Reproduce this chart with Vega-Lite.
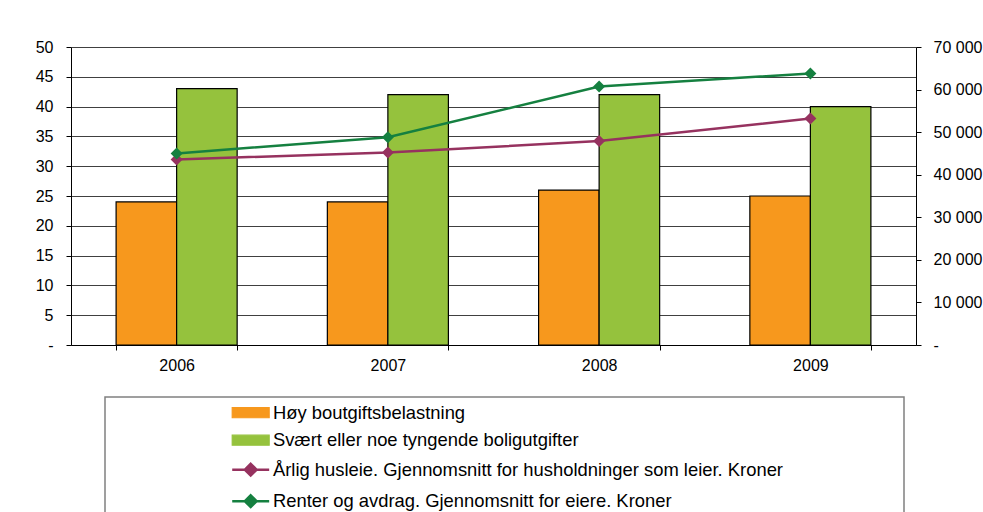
{
  "$schema": "https://vega.github.io/schema/vega-lite/v6.json",
  "width": 845,
  "height": 298,
  "autosize": "none",
  "padding": {"left": 71, "top": 47, "right": 67, "bottom": 167},
  "background": "white",
  "config": {
    "view": {"stroke": null},
    "font": "Liberation Sans",
    "axis": {"labelFont": "Liberation Sans", "labelFontSize": 16, "labelColor": "black", "domainColor": "black", "tickColor": "black", "tickSize": 5, "domainWidth": 1, "tickWidth": 1, "title": null}
  },
  "datasets": {
    "bars": [
      {"year": "2006", "series": "Høy boutgiftsbelastning", "value": 24},
      {"year": "2006", "series": "Svært eller noe tyngende boligutgifter", "value": 43},
      {"year": "2007", "series": "Høy boutgiftsbelastning", "value": 24},
      {"year": "2007", "series": "Svært eller noe tyngende boligutgifter", "value": 42},
      {"year": "2008", "series": "Høy boutgiftsbelastning", "value": 26},
      {"year": "2008", "series": "Svært eller noe tyngende boligutgifter", "value": 42},
      {"year": "2009", "series": "Høy boutgiftsbelastning", "value": 25},
      {"year": "2009", "series": "Svært eller noe tyngende boligutgifter", "value": 40}
    ],
    "lines": [
      {"year": "2006", "series": "Årlig husleie. Gjennomsnitt for husholdninger som leier. Kroner", "kroner": 43600},
      {"year": "2007", "series": "Årlig husleie. Gjennomsnitt for husholdninger som leier. Kroner", "kroner": 45200},
      {"year": "2008", "series": "Årlig husleie. Gjennomsnitt for husholdninger som leier. Kroner", "kroner": 47900},
      {"year": "2009", "series": "Årlig husleie. Gjennomsnitt for husholdninger som leier. Kroner", "kroner": 53200},
      {"year": "2006", "series": "Renter og avdrag. Gjennomsnitt for eiere. Kroner", "kroner": 45000},
      {"year": "2007", "series": "Renter og avdrag. Gjennomsnitt for eiere. Kroner", "kroner": 48800},
      {"year": "2008", "series": "Renter og avdrag. Gjennomsnitt for eiere. Kroner", "kroner": 60700},
      {"year": "2009", "series": "Renter og avdrag. Gjennomsnitt for eiere. Kroner", "kroner": 63800}
    ]
  },
  "encoding": {
    "x": {
      "field": "year",
      "type": "nominal",
      "title": null,
      "scale": {"paddingInner": 0.427, "paddingOuter": 0.2135},
      "axis": {"labelAngle": 0, "tickBand": "extent", "labelPadding": 7, "grid": false}
    },
    "color": {
      "field": "series",
      "type": "nominal",
      "scale": {
        "domain": [
          "Høy boutgiftsbelastning",
          "Svært eller noe tyngende boligutgifter",
          "Årlig husleie. Gjennomsnitt for husholdninger som leier. Kroner",
          "Renter og avdrag. Gjennomsnitt for eiere. Kroner"
        ],
        "range": ["#F7981D", "#95C23D", "#96325F", "#158040"]
      },
      "legend": {
        "orient": "none",
        "legendX": 34,
        "legendY": 350,
        "title": " ",
        "titleOrient": "right",
        "titlePadding": 115,
        "padding": 6.5,
        "strokeColor": "#808080",
        "fillColor": "white",
        "symbolSize": 784,
        "symbolStrokeWidth": 1,
        "symbolStrokeColor": "black",
        "symbolOffset": 130,
        "labelOffset": 13,
        "labelFont": "Liberation Sans",
        "labelFontSize": 18.4,
        "labelColor": "black",
        "labelLimit": 1000,
        "rowPadding": 8.5,
        "encode": {
          "legend": {"update": {"strokeWidth": {"value": 1.5}}},
          "symbols": {
            "enter": {
              "stroke": {"signal": "datum.index < 2 ? 'black' : scale('color', datum.value)"},
              "strokeWidth": {"signal": "datum.index < 2 ? 1.2 : 2.5"}
            },
            "update": {
              "shape": {"signal": "datum.index < 2 ? 'M-1.32,-0.36H1.32V0.36H-1.32Z' : 'M-1.32,0H1.32M0,-0.42L0.42,0L0,0.42L-0.42,0Z'"},
              "fill": {"scale": "color", "field": "value"},
              "stroke": {"signal": "datum.index < 2 ? 'black' : scale('color', datum.value)"},
              "strokeWidth": {"signal": "datum.index < 2 ? 1.2 : 2.5"},
              "opacity": {"value": 1}
            }
          }
        }
      }
    }
  },
  "layer": [
    {
      "data": {"name": "bars"},
      "mark": {"type": "bar", "stroke": "black", "strokeWidth": 1.2},
      "encoding": {
        "stroke": {"value": "black"},
        "xOffset": {"field": "series", "type": "nominal", "scale": {"paddingInner": 0, "paddingOuter": 0}},
        "y": {
          "field": "value",
          "type": "quantitative",
          "scale": {"domain": [0, 50], "nice": false},
          "axis": {
            "orient": "left",
            "values": [0, 5, 10, 15, 20, 25, 30, 35, 40, 45, 50],
            "labelExpr": "datum.value == 0 ? '-\u00a0\u00a0\u00a0\u00a0' : datum.label",
            "labelPadding": 13,
            "grid": true,
            "gridColor": "#404040",
            "gridWidth": 1
          }
        }
      }
    },
    {
      "data": {"name": "lines"},
      "encoding": {
        "y": {
          "field": "kroner",
          "type": "quantitative",
          "scale": {"domain": [0, 70000], "nice": false},
          "axis": {
            "orient": "right",
            "values": [0, 10000, 20000, 30000, 40000, 50000, 60000, 70000],
            "labelExpr": "datum.value == 0 ? '-' : replace(format(datum.value, ','), ',', ' ')",
            "labelPadding": 12,
            "labelAlign": "left",
            "grid": false
          }
        }
      },
      "layer": [
        {"mark": {"type": "line", "strokeWidth": 2.5}},
        {"mark": {"type": "point", "shape": "diamond", "filled": true, "size": 144, "opacity": 1}}
      ]
    }
  ],
  "resolve": {"scale": {"y": "independent"}}
}
